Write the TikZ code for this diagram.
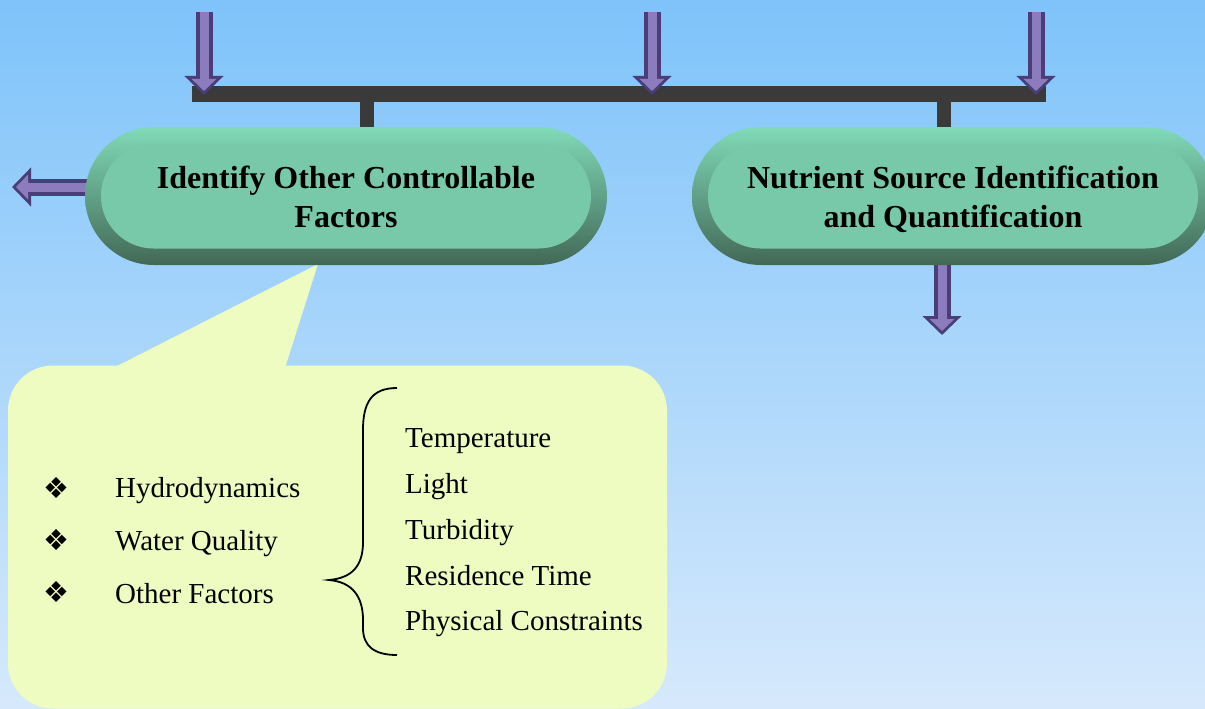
\documentclass[tikz,border=0pt]{standalone}
\usepackage{fontspec}
\setmainfont{Liberation Serif}
\newfontfamily\symfont{DejaVu Sans}
\usetikzlibrary{positioning, arrows.meta, shapes.misc}
\usepackage{xcolor}

\definecolor{bgtop}{RGB}{126,195,250}
\definecolor{bgbottom}{RGB}{214,233,252}
\definecolor{rimlight}{RGB}{128,218,184}
\definecolor{rimdark}{RGB}{66,104,86}
\definecolor{pillface}{RGB}{120,201,169}
\definecolor{barcolor}{RGB}{58,58,58}
\definecolor{arrowfill}{RGB}{140,124,190}
\definecolor{arrowedge}{RGB}{74,62,120}
\definecolor{notefill}{RGB}{238,252,194}

\begin{document}
\begin{tikzpicture}[x=1pt,y=-1pt,node distance=607pt,on grid,
  rim/.style={rounded rectangle, minimum width=522pt, minimum height=138pt,
    inner sep=0pt, top color=rimlight, bottom color=rimdark},
  face/.style={rounded rectangle, minimum width=490pt, minimum height=105pt,
    inner sep=0pt, fill=pillface},
  title/.style={align=center, inner sep=0pt, yshift=-4pt,
    font=\fontsize{32}{39}\selectfont\bfseries},
  bar/.style={line width=15pt, draw=barcolor},
  stem/.style={line width=14pt, draw=barcolor},
  flowedge/.style={line width=17pt, draw=arrowedge, -{Triangle[width=38pt,length=19pt]}},
  flow/.style={line width=9pt, draw=arrowfill, shorten >=4pt, -{Triangle[width=24pt,length=12pt]}},
  note/.style={rectangle, rounded corners=45pt, minimum width=659pt, minimum height=343pt,
    fill=notefill},
  item/.style={anchor=base west, inner sep=0pt, font=\fontsize{29}{34}\selectfont},
  bullet/.style={inner sep=0pt, font=\symfont\fontsize{29}{32}\selectfont}]

  \useasboundingbox (0,0) rectangle (1205,709);
  \shade[top color=bgtop, bottom color=bgbottom] (0,0) rectangle (1205,709);

  % bar and its feeding arrows
  \coordinate (barL) at (192,94);
  \coordinate (barR) at (1046,94);
  \draw[bar] (barL) -- (barR);
  \coordinate (in1) at (204,12);
  \coordinate (in2) at (652,12);
  \coordinate (in3) at (1036,12);
  \coordinate (j1) at (204,95);
  \coordinate (j2) at (652,95);
  \coordinate (j3) at (1036,95);
  \foreach \i in {1,2,3} {
    \draw[flowedge] (in\i) -- (j\i);
    \draw[flow] (in\i) -- (j\i);
  }

  % stems down to the pills
  \coordinate (s1) at (367,94);
  \coordinate (s2) at (944,94);
  \draw[stem] (s1) -- (367,132);
  \draw[stem] (s2) -- (944,132);

  % outgoing arrows
  \coordinate (lstart) at (95,187);
  \coordinate (lend) at (12,187);
  \draw[flowedge] (lstart) -- (lend);
  \draw[flow] (lstart) -- (lend);
  \coordinate (dstart) at (942,250);
  \coordinate (dend) at (942,335);
  \draw[flowedge] (dstart) -- (dend);
  \draw[flow] (dstart) -- (dend);

  % callout
  \node[note] (note) at (337.5,537) {};
  \coordinate (tip) at (318,264);
  \fill[notefill] (113,368) -- (tip) -- (285,368) -- cycle;

  % pills
  \node[rim] (ctrlrim) at (346,196) {};
  \node[face] (ctrl) at (346,196) {};
  \node[rim] (nutrrim) [right=of ctrlrim] {};
  \node[face] (nutr) [right=of ctrl] {};
  \node[title] (ctrltext) at (ctrl) {\strut Identify Other Controllable\\\strut Factors};
  \node[title] (nutrtext) at (nutr) {\strut Nutrient Source Identification\\\strut and Quantification};

  % list inside the callout
  \node[bullet] (b1) at (56,488) {❖};
  \node[bullet] (b2) at (56,540) {❖};
  \node[bullet] (b3) at (56,592) {❖};
  \node[item] (hydro) at (115,497) {Hydrodynamics};
  \node[item] (water) at (115,550) {Water Quality};
  \node[item] (other) at (115,603) {Other Factors};

  \draw[line width=1.8pt] (397,388) .. controls (372,388) and (363,402) .. (363,430)
    -- (363,542) .. controls (363,566) and (352,578) .. (329,580)
    .. controls (352,582) and (363,596) .. (363,620)
    -- (363,628) .. controls (363,646) and (374,655) .. (397,655);

  \node[item] (temp) at (405,447) {Temperature};
  \node[item] (light) at (405,493) {Light};
  \node[item] (turb) at (405,539) {Turbidity};
  \node[item] (resid) at (405,585) {Residence Time};
  \node[item] (phys) at (405,630) {Physical Constraints};
\end{tikzpicture}
\end{document}
